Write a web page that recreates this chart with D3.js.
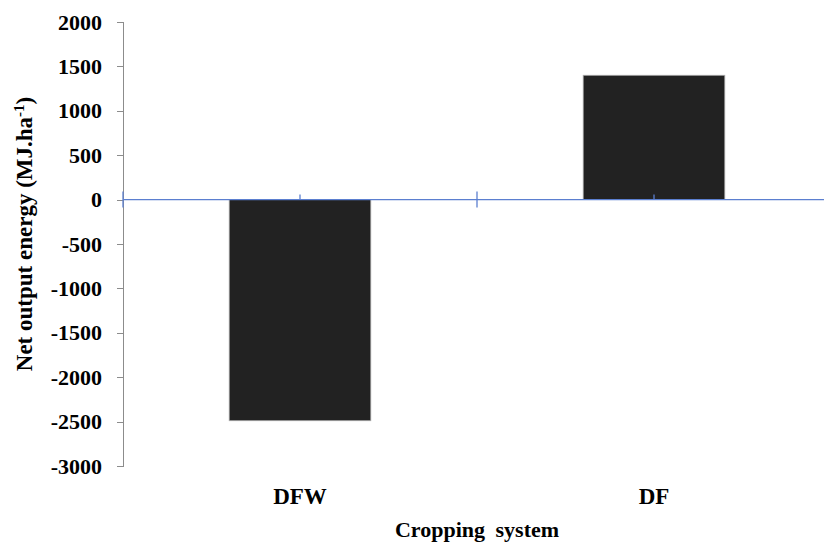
<!DOCTYPE html>
<meta charset="utf-8">
<style>
body { margin: 0; background: #fff; }
svg text { font-family: "Times New Roman", Times, "Liberation Serif", "DejaVu Serif", serif; font-weight: bold; fill: #000; }
.y-axis path, .y-axis line { stroke: #8c8c8c; shape-rendering: crispEdges; }
.y-axis text { font-size: 22px; }
</style>
<body>
<script src="https://d3js.org/d3.v7.min.js"></script>
<script>
var categories = ["DFW", "DF"];
var values = [-2490, 1400];
var yTicks = [2000, 1500, 1000, 500, 0, -500, -1000, -1500, -2000, -2500, -3000];

var width = 824,
    height = 543;

var svg = d3.select("body").append("svg")
    .attr("width", width)
    .attr("height", height);

var x = d3.scaleBand()
    .domain(categories)
    .range([123, 831])
    .paddingInner(0.6)
    .paddingOuter(0.3);

var y = d3.scaleLinear()
    .domain([-3000, 2000])
    .range([466, 22]);

// y axis
svg.append("g")
    .attr("class", "y-axis")
    .attr("transform", "translate(123,0)")
    .call(d3.axisLeft(y).tickValues(yTicks).tickSize(6).tickSizeOuter(6).tickPadding(15)
      .tickFormat(function(d) { return String(d); }));

// bars
svg.append("g")
  .selectAll("rect")
  .data(categories.map(function(c, i) { return {c: c, v: values[i]}; }))
  .enter().append("rect")
    .attr("x", function(d) { return x(d.c); })
    .attr("width", x.bandwidth())
    .attr("y", function(d) { return y(Math.max(0, d.v)); })
    .attr("height", function(d) { return Math.abs(y(d.v) - y(0)); })
    .attr("fill", "#222")
    .attr("stroke", "#aaa")
    .attr("stroke-width", 0.8);

// zero line (category axis)
var zeroY = y(0);
svg.append("line")
    .attr("x1", 123).attr("x2", width)
    .attr("y1", zeroY).attr("y2", zeroY)
    .attr("stroke", "#5b7fd0")
    .attr("stroke-width", 1.3);

// boundary ticks crossing the zero line
var step = (831 - 123) / categories.length;
[123, 123 + step].forEach(function(px) {
  svg.append("line")
      .attr("x1", px).attr("x2", px)
      .attr("y1", zeroY - 8).attr("y2", zeroY + 8)
      .attr("stroke", "#5b7fd0")
      .attr("stroke-width", 1.3);
});

// small ticks at category centres
categories.forEach(function(c) {
  var cx = x(c) + x.bandwidth() / 2;
  svg.append("line")
      .attr("x1", cx).attr("x2", cx)
      .attr("y1", zeroY - 5).attr("y2", zeroY)
      .attr("stroke", "#5b7fd0")
      .attr("stroke-width", 1.3);
});

// category labels
categories.forEach(function(c) {
  svg.append("text")
      .attr("x", x(c) + x.bandwidth() / 2)
      .attr("y", 504)
      .attr("text-anchor", "middle")
      .attr("font-size", 23)
      .text(c);
});

// x title
svg.append("text")
    .attr("x", 477)
    .attr("y", 537)
    .attr("text-anchor", "middle")
    .attr("font-size", 22)
    .attr("word-spacing", 5)
    .text("Cropping system");

// y title
var yt = svg.append("text")
    .attr("transform", "translate(32,234) rotate(-90)")
    .attr("text-anchor", "middle")
    .attr("font-size", 23);
yt.append("tspan").text("Net output energy (MJ.ha");
yt.append("tspan").attr("dy", -8).attr("font-size", 15).text("-1");
yt.append("tspan").attr("dy", 8).text(")");
</script>
</body>
